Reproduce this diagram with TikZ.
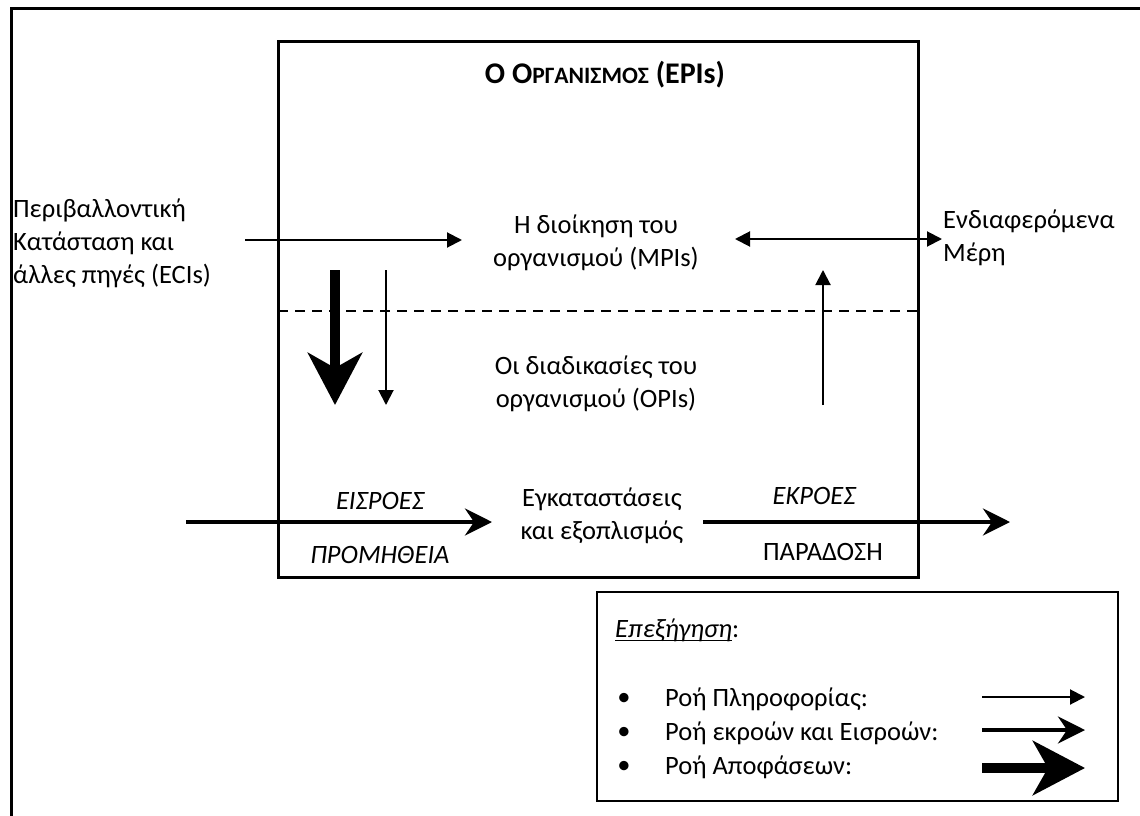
\documentclass[tikz,border=0pt]{standalone}
\usepackage{fontspec}
\setmainfont{Carlito}
\usetikzlibrary{arrows.meta}
\newcommand\myul[1]{\setbox0\hbox{#1}\rlap{\rule[-4pt]{\wd0}{1.6pt}}\box0}
\begin{document}
\begin{tikzpicture}[x=1pt,y=-1pt,
  txt/.style={font=\fontsize{26.5}{33}\selectfont, inner sep=0pt, align=center},
  frame/.style={line width=3pt},
  info/.style={line width=2pt, -{Triangle[length=15pt,width=15pt]}},
  infoboth/.style={line width=2pt, {Triangle[length=15pt,width=15pt]}-{Triangle[length=15pt,width=15pt]}},
  iof/.style={line width=4pt, -{Stealth[length=27pt,width=27pt,inset=9pt]}},
  dec/.style={line width=10pt, -{Stealth[length=52pt,width=54pt,inset=15pt]}}
]
\useasboundingbox (0,0) rectangle (1140,816);
\fill[white] (0,0) rectangle (1140,816);
% outer frame (cropped at right and bottom)
\draw[frame] (11,9) rectangle (1180,860);
% organisation box
\draw[frame] (278,42) rectangle (918,577);
\draw[line width=2pt, dash pattern=on 10pt off 7pt] (278,311) -- (918,311);

% texts
\node[txt, font=\fontsize{30}{36}\selectfont\bfseries] (title) at (605,75)
  {Ο Ο{\fontsize{23.5}{28}\selectfont ΡΓΑΝΙΣΜΟΣ} (EPIs)};
\node[txt, align=left, anchor=west] (env) at (13,243)
  {Περιβαλλοντική\\Κατάσταση και\\άλλες πηγές (ECIs)};
\node[txt] (mpi) at (596,243) {Η διοίκηση του\\οργανισμού (MPIs)};
\node[txt, align=left, anchor=west] (stake) at (943,238) {Ενδιαφερόμενα\\Μέρη};
\node[txt] (opi) at (596,384) {Οι διαδικασίες του\\οργανισμού (OPIs)};
\node[txt] (fac) at (602,516) {Εγκαταστάσεις\\και εξοπλισμός};
\node[txt, font=\fontsize{26.5}{33}\selectfont\itshape] (eis) at (380,501) {ΕΙΣΡΟΕΣ};
\node[txt, font=\fontsize{26.5}{33}\selectfont\itshape] (prom) at (380,555) {ΠΡΟΜΗΘΕΙΑ};
\node[txt, font=\fontsize{26.5}{33}\selectfont\itshape] (ekr) at (814,496) {ΕΚΡΟΕΣ};
\node[txt] (par) at (823,552) {ΠΑΡΑΔΟΣΗ};

% connector end points
\coordinate (envE) at (245,240);
\coordinate (mpiW) at (462,240);
\coordinate (mpiE) at (735,239);
\coordinate (stakeW) at (942,239);
\coordinate (upS) at (823,405);
\coordinate (upE) at (823,270);
\coordinate (thinS) at (386,270);
\coordinate (thinE) at (386,405);
\coordinate (decS) at (335,270);
\coordinate (decE) at (335,405);
\coordinate (inS) at (186,522);
\coordinate (inE) at (492,522);
\coordinate (outS) at (703,522);
\coordinate (outE) at (1010,522);

\draw[info] (envE) -- (mpiW);
\draw[infoboth] (mpiE) -- (stakeW);
\draw[info] (upS) -- (upE);
\draw[info] (thinS) -- (thinE);
\draw[dec] (decS) -- (decE);
\draw[iof] (inS) -- (inE);
\draw[iof] (outS) -- (outE);

% legend
\draw[line width=2.5pt] (597,592) rectangle (1118,801);
\node[txt, anchor=west] (leg) at (615,630) {\myul{\itshape Επεξήγηση}:};
\node[txt] (b1) at (624,699) {•};
\node[txt] (b2) at (624,733) {•};
\node[txt] (b3) at (624,767) {•};
\node[txt, anchor=west] (l1) at (665,699) {Ροή Πληροφορίας:};
\node[txt, anchor=west] (l2) at (665,733) {Ροή εκροών και Εισροών:};
\node[txt, anchor=west] (l3) at (665,767) {Ροή Αποφάσεων:};
\coordinate (la1s) at (982,697); \coordinate (la1e) at (1085,697);
\coordinate (la2s) at (982,730); \coordinate (la2e) at (1085,730);
\coordinate (la3s) at (982,768); \coordinate (la3e) at (1085,768);
\draw[info] (la1s) -- (la1e);
\draw[iof] (la2s) -- (la2e);
\draw[dec] (la3s) -- (la3e);
\end{tikzpicture}
\end{document}
